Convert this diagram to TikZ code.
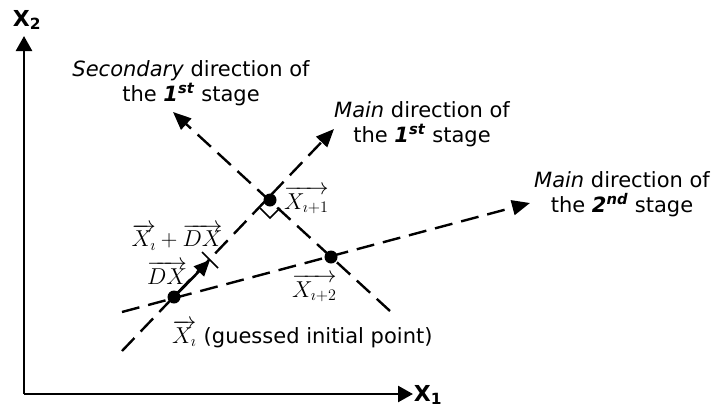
\RequirePackage{fix-cm}
\documentclass[tikz,border=0pt]{standalone}
\usepackage{fontspec}
\setmainfont{DejaVu Sans}
\usetikzlibrary{arrows.meta,calc}
\newcommand{\bi}[1]{\textbf{\textit{#1}}}
\begin{document}
\begin{tikzpicture}[x=1pt,y=-1pt,
  axis/.style={line width=2.6pt,-{Triangle[length=15pt,width=16pt]}},
  dir/.style={line width=2.4pt,dash pattern=on 18pt off 9pt,-{Triangle[length=18pt,width=15pt]}},
  pt/.style={circle,fill=black,inner sep=0pt,minimum size=13pt},
  lbl/.style={font=\fontsize{21}{25}\selectfont,align=center,inner sep=0pt},
  axlbl/.style={font=\fontsize{22}{24}\selectfont\bfseries,inner sep=0pt},
  mlbl/.style={font=\fontsize{23}{25}\selectfont,inner sep=0pt}]
\useasboundingbox (0,0) rectangle (712,410);
% axes
\coordinate (O) at (24,394);
\coordinate (Y) at (24,36);
\coordinate (X) at (413,394);
\draw[axis] (O) -- (Y);
\draw[axis] (O) -- (X);
\node[axlbl] (x2) at (27,20) {X\textsubscript{2}};
\node[axlbl] (x1) at (428,395) {X\textsubscript{1}};
% points
\node[pt] (Xi) at (174,297) {};
\node[pt] (Xi1) at (270,200) {};
\node[pt] (Xi2) at (331,257) {};
% line ends
\coordinate (m1s) at (122,351);
\coordinate (m1e) at (334,129);
\coordinate (s1s) at (390,311);
\coordinate (s1e) at (173,112);
\coordinate (m2s) at (122,312);
\coordinate (m2e) at (530,203);
\draw[dir] (m1s) -- (m1e);
\draw[dir] (s1s) -- (s1e);
\draw[dir] (m2s) -- (m2e);
% DX vector
\coordinate (DXe) at (210,260);
\coordinate (tk1) at ($(DXe)+(-8,-8)$);
\coordinate (tk2) at ($(DXe)+(8,8)$);
\draw[line width=2.6pt,-{Triangle[length=16pt,width=14pt]}] (Xi.center) -- (DXe);
\draw[line width=1.6pt] (tk1) -- (tk2);
% right angle marker
\draw[line width=1.5pt] (Xi1.center) ++(-10,8) -- ++(10,10) -- ++(10,-10);
% labels
\node[lbl] (sec) at (191,83) {\textit{Secondary} direction of\\the \bi{1}\textsuperscript{\bi{st}} stage};
\node[lbl] (main1) at (422,124) {\textit{Main} direction of\\the \bi{1}\textsuperscript{\bi{st}} stage};
\node[lbl] (main2) at (622,194) {\textit{Main} direction of\\the \bi{2}\textsuperscript{\bi{nd}} stage};
\node[mlbl,anchor=west] (lXi1) at (284,200) {$\overrightarrow{X_{\imath+1}}$};
\node[mlbl,anchor=west] (lXi2) at (292,288) {$\overrightarrow{X_{\imath+2}}$};
\node[mlbl] (lsum) at (177,237) {$\overrightarrow{X_{\imath}}+\overrightarrow{DX}$};
\node[mlbl] (lDX) at (167,273) {$\overrightarrow{DX}$};
\node[mlbl,anchor=west] (lXi) at (172,334) {$\overrightarrow{X_{\imath}}$\ \fontsize{21}{25}\selectfont(guessed initial point)};
\end{tikzpicture}
\end{document}
